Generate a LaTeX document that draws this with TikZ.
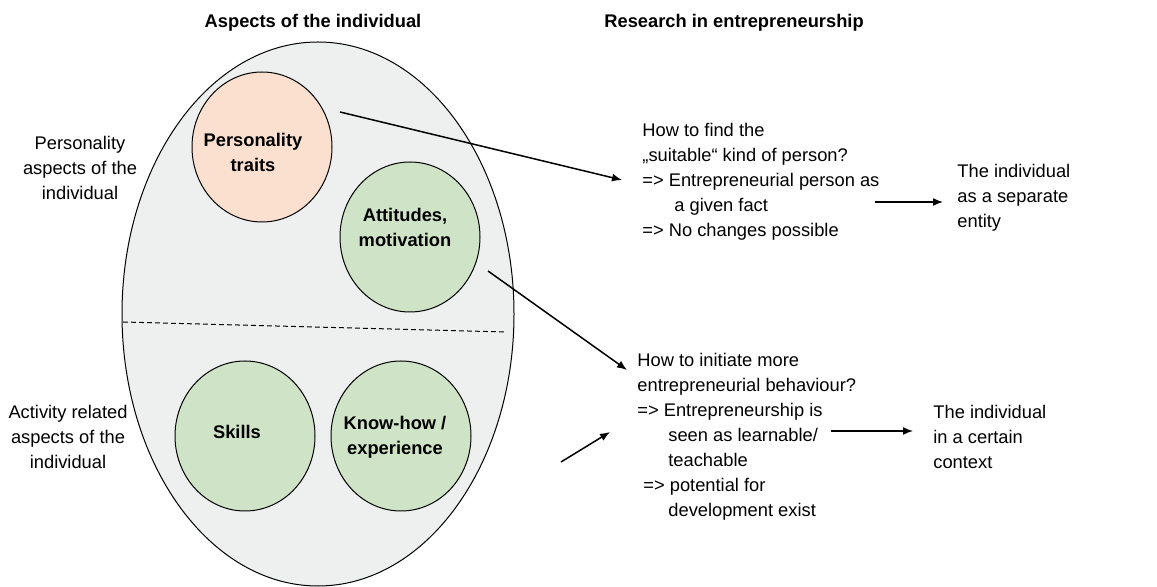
\documentclass[tikz,border=0pt]{standalone}
\usepackage{fontspec}
\setmainfont{Liberation Sans}
\usetikzlibrary{positioning, shapes.geometric, arrows.meta}
\tikzstyle{pixelGrid} = [x = 0.5pt, y = -0.5pt]
\definecolor{individualGrey}{HTML}{EEF0EF}
\definecolor{traitsPeach}{HTML}{FCE0CF}
\definecolor{aspectGreen}{HTML}{CFE3C6}
\newcommand{\plainFont}{\fontsize{9.15}{12.5}\selectfont}
\tikzstyle{individualStyle} = [draw=black, fill=individualGrey, line width=0.5pt]
\tikzstyle{aspectStyle} = [ellipse, draw=black, line width=0.5pt, inner sep=0pt, minimum width=70pt, minimum height=75pt]
\tikzstyle{aspectText} = [inner sep=0pt, align=center, font=\plainFont\bfseries]
\tikzstyle{headText} = [inner sep=0pt, font=\plainFont\bfseries]
\tikzstyle{sideText} = [inner sep=0pt, align=center, font=\plainFont]
\tikzstyle{researchText} = [inner sep=0pt, align=left, anchor=west, font=\plainFont]
\tikzstyle{linkArrow} = [line width=0.75pt, -{Latex[length=5pt, width=4pt]}]
\newcommand{\aspect}[5]{
  \node [aspectStyle, fill=#2] (#1) at (#3) {};
  \node [aspectText] (#1Text) at ([shift={(#4)}]#1.center) {#5};
}
\newcommand{\indentIt}[1]{\hspace*{#1pt}}

\begin{document}
\begin{tikzpicture}[pixelGrid]
  \useasboundingbox (0,0) rectangle (1157,587);
  % the individual
  \filldraw [individualStyle] (318,314) ellipse [x radius=196, y radius=272];
  \draw [dashed, dash pattern=on 2.5pt off 1.5pt, line width=0.5pt] (123,322) -- (506,332);
  \aspect{traits}{traitsPeach}{262,147}{-9,5}{Personality\\traits}
  \aspect{attitudes}{aspectGreen}{410,237}{-5,-10}{Attitudes,\\motivation}
  \aspect{skills}{aspectGreen}{245,436}{-8,-4}{Skills}
  \aspect{knowHow}{aspectGreen}{401,436}{-6,1}{Know-how /\\experience}
  % headings and side labels
  \node [headText] (aspectsHead) at (313,23) {Aspects of the individual};
  \node [headText, anchor=west] (researchHead) at (604,23) {Research in entrepreneurship};
  \node [sideText] (personalitySide) at (80,168) {Personality\\aspects of the\\individual};
  \node [sideText] (activitySide) at (68,437) {Activity related\\aspects of the\\individual};
  % research questions
  \node [researchText] (findPerson) at (642,182) {How to find the\\
    „suitable“ kind of person?\\
    => Entrepreneurial person as\\
    \indentIt{16}a given fact\\
    => No changes possible};
  \node [researchText] (initiate) at (637,437) {How to initiate more\\
    entrepreneurial behaviour?\\
    => Entrepreneurship is\\
    \indentIt{15.5}seen as learnable/\\
    \indentIt{15.5}teachable\\
    \indentIt{3}=> potential for\\
    \indentIt{15.5}development exist};
  \node [researchText] (separateEntity) at (957,198) {The individual\\as a separate\\entity};
  \node [researchText] (certainContext) at (933,437) {The individual\\in a certain\\context};
  % arrows
  \coordinate (traitsOut) at (340,112);
  \coordinate (findIn) at (622,180);
  \coordinate (attitudesOut) at (488,271);
  \coordinate (initiateIn) at (627,370);
  \coordinate (knowHowOut) at (561,462);
  \coordinate (initiateLow) at (610,432);
  \coordinate (findOut) at (875,202);
  \coordinate (separateIn) at (943,202);
  \coordinate (initiateOut) at (831,431);
  \coordinate (contextIn) at (913,431);
  \draw [linkArrow] (traitsOut) -- (findIn);
  \draw [linkArrow] (attitudesOut) -- (initiateIn);
  \draw [linkArrow] (knowHowOut) -- (initiateLow);
  \draw [linkArrow] (findOut) -- (separateIn);
  \draw [linkArrow] (initiateOut) -- (contextIn);
\end{tikzpicture}
\end{document}
